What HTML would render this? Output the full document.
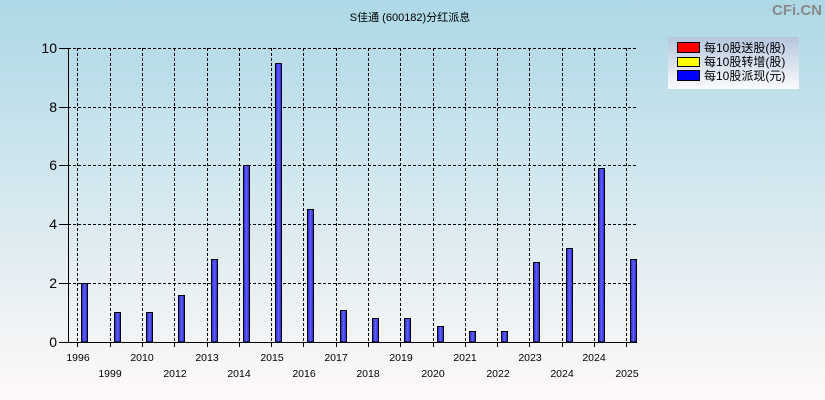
<!DOCTYPE html>
<html><head><meta charset="utf-8"><style>
html,body{margin:0;padding:0;}
body{width:825px;height:400px;overflow:hidden;}
svg{display:block;}
text{font-family:"Liberation Sans","Noto Sans CJK SC",sans-serif;}
</style></head><body>
<svg width="825" height="400" viewBox="0 0 825 400" xmlns="http://www.w3.org/2000/svg">
<defs>
<linearGradient id="bg" x1="0" y1="0" x2="0" y2="1">
<stop offset="0" stop-color="#add8e6"/>
<stop offset="1" stop-color="#fff9f9"/>
</linearGradient>
<linearGradient id="lg" x1="0" y1="0" x2="0" y2="1">
<stop offset="0" stop-color="#b4c6de"/>
<stop offset="1" stop-color="#fbfbfd"/>
</linearGradient>
<linearGradient id="bar" x1="0" y1="0" x2="1" y2="0">
<stop offset="0" stop-color="#2222c0"/>
<stop offset="0.5" stop-color="#6060ff"/>
<stop offset="1" stop-color="#2222c0"/>
</linearGradient>
</defs>
<rect x="0" y="0" width="825" height="400" fill="url(#bg)"/>
<text x="410" y="21" font-size="11" text-anchor="middle" fill="#000">S佳通 (600182)分红派息</text>
<text x="822" y="15" font-size="15" font-weight="bold" text-anchor="end" fill="#8a8a8a">CFi.CN</text>

<g stroke="#000" stroke-width="1" stroke-dasharray="3,2" fill="none">
<line x1="68" y1="48.5" x2="636" y2="48.5"/>
<line x1="68" y1="107.5" x2="636" y2="107.5"/>
<line x1="68" y1="165.5" x2="636" y2="165.5"/>
<line x1="68" y1="224.5" x2="636" y2="224.5"/>
<line x1="68" y1="283.5" x2="636" y2="283.5"/>
<line x1="77.5" y1="48" x2="77.5" y2="342"/>
<line x1="110.5" y1="48" x2="110.5" y2="342"/>
<line x1="142.5" y1="48" x2="142.5" y2="342"/>
<line x1="174.5" y1="48" x2="174.5" y2="342"/>
<line x1="207.5" y1="48" x2="207.5" y2="342"/>
<line x1="239.5" y1="48" x2="239.5" y2="342"/>
<line x1="271.5" y1="48" x2="271.5" y2="342"/>
<line x1="303.5" y1="48" x2="303.5" y2="342"/>
<line x1="336.5" y1="48" x2="336.5" y2="342"/>
<line x1="368.5" y1="48" x2="368.5" y2="342"/>
<line x1="400.5" y1="48" x2="400.5" y2="342"/>
<line x1="433.5" y1="48" x2="433.5" y2="342"/>
<line x1="465.5" y1="48" x2="465.5" y2="342"/>
<line x1="497.5" y1="48" x2="497.5" y2="342"/>
<line x1="529.5" y1="48" x2="529.5" y2="342"/>
<line x1="562.5" y1="48" x2="562.5" y2="342"/>
<line x1="594.5" y1="48" x2="594.5" y2="342"/>
<line x1="626.5" y1="48" x2="626.5" y2="342"/>
</g>

<g fill="url(#bar)" stroke="#000" stroke-width="1">
<rect x="81.5" y="283.5" width="6" height="58.5"/>
<rect x="114.5" y="312.5" width="6" height="29.5"/>
<rect x="146.5" y="312.5" width="6" height="29.5"/>
<rect x="178.5" y="295.5" width="6" height="46.5"/>
<rect x="211.5" y="259.5" width="6" height="82.5"/>
<rect x="243.5" y="165.5" width="6" height="176.5"/>
<rect x="275.5" y="63.5" width="6" height="278.5"/>
<rect x="307.5" y="209.5" width="6" height="132.5"/>
<rect x="340.5" y="310.5" width="6" height="31.5"/>
<rect x="372.5" y="318.5" width="6" height="23.5"/>
<rect x="404.5" y="318.5" width="6" height="23.5"/>
<rect x="437.5" y="326.5" width="6" height="15.5"/>
<rect x="469.5" y="331.5" width="6" height="10.5"/>
<rect x="501.5" y="331.5" width="6" height="10.5"/>
<rect x="533.5" y="262.5" width="6" height="79.5"/>
<rect x="566.5" y="248.5" width="6" height="93.5"/>
<rect x="598.5" y="168.5" width="6" height="173.5"/>
<rect x="630.5" y="259.5" width="6" height="82.5"/>
</g>

<g stroke="#000" stroke-width="1" fill="none">
<line x1="68.5" y1="48" x2="68.5" y2="342"/>
<line x1="59" y1="342.5" x2="637" y2="342.5"/>
<line x1="59" y1="48.5" x2="68" y2="48.5"/>
<line x1="59" y1="107.5" x2="68" y2="107.5"/>
<line x1="59" y1="165.5" x2="68" y2="165.5"/>
<line x1="59" y1="224.5" x2="68" y2="224.5"/>
<line x1="59" y1="283.5" x2="68" y2="283.5"/>
<line x1="77.5" y1="342" x2="77.5" y2="347"/>
<line x1="110.5" y1="342" x2="110.5" y2="347"/>
<line x1="142.5" y1="342" x2="142.5" y2="347"/>
<line x1="174.5" y1="342" x2="174.5" y2="347"/>
<line x1="207.5" y1="342" x2="207.5" y2="347"/>
<line x1="239.5" y1="342" x2="239.5" y2="347"/>
<line x1="271.5" y1="342" x2="271.5" y2="347"/>
<line x1="303.5" y1="342" x2="303.5" y2="347"/>
<line x1="336.5" y1="342" x2="336.5" y2="347"/>
<line x1="368.5" y1="342" x2="368.5" y2="347"/>
<line x1="400.5" y1="342" x2="400.5" y2="347"/>
<line x1="433.5" y1="342" x2="433.5" y2="347"/>
<line x1="465.5" y1="342" x2="465.5" y2="347"/>
<line x1="497.5" y1="342" x2="497.5" y2="347"/>
<line x1="529.5" y1="342" x2="529.5" y2="347"/>
<line x1="562.5" y1="342" x2="562.5" y2="347"/>
<line x1="594.5" y1="342" x2="594.5" y2="347"/>
<line x1="626.5" y1="342" x2="626.5" y2="347"/>
</g>

<g font-size="14" text-anchor="end" fill="#000">
<text x="57" y="53">10</text>
<text x="57" y="112">8</text>
<text x="57" y="170">6</text>
<text x="57" y="229">4</text>
<text x="57" y="288">2</text>
<text x="57" y="347">0</text>
</g>

<g font-size="10.5" text-anchor="middle" fill="#000">
<text x="78" y="361">1996</text>
<text x="110" y="377">1999</text>
<text x="142" y="361">2010</text>
<text x="175" y="377">2012</text>
<text x="207" y="361">2013</text>
<text x="239" y="377">2014</text>
<text x="272" y="361">2015</text>
<text x="304" y="377">2016</text>
<text x="336" y="361">2017</text>
<text x="368" y="377">2018</text>
<text x="401" y="361">2019</text>
<text x="433" y="377">2020</text>
<text x="465" y="361">2021</text>
<text x="498" y="377">2022</text>
<text x="530" y="361">2023</text>
<text x="562" y="377">2024</text>
<text x="594" y="361">2024</text>
<text x="627" y="377">2025</text>
</g>

<rect x="668" y="37" width="131" height="52" fill="url(#lg)"/>
<g stroke="#000" stroke-width="1">
<rect x="677.5" y="42.5" width="22" height="10" fill="#ff0000"/>
<rect x="677.5" y="57.5" width="22" height="9" fill="#ffff00"/>
<rect x="677.5" y="70.5" width="22" height="10" fill="#0000ff"/>
</g>
<g font-size="12" fill="#000">
<text x="704" y="52">每10股送股(股)</text>
<text x="704" y="66">每10股转增(股)</text>
<text x="704" y="80">每10股派现(元)</text>
</g>
</svg>
</body></html>
